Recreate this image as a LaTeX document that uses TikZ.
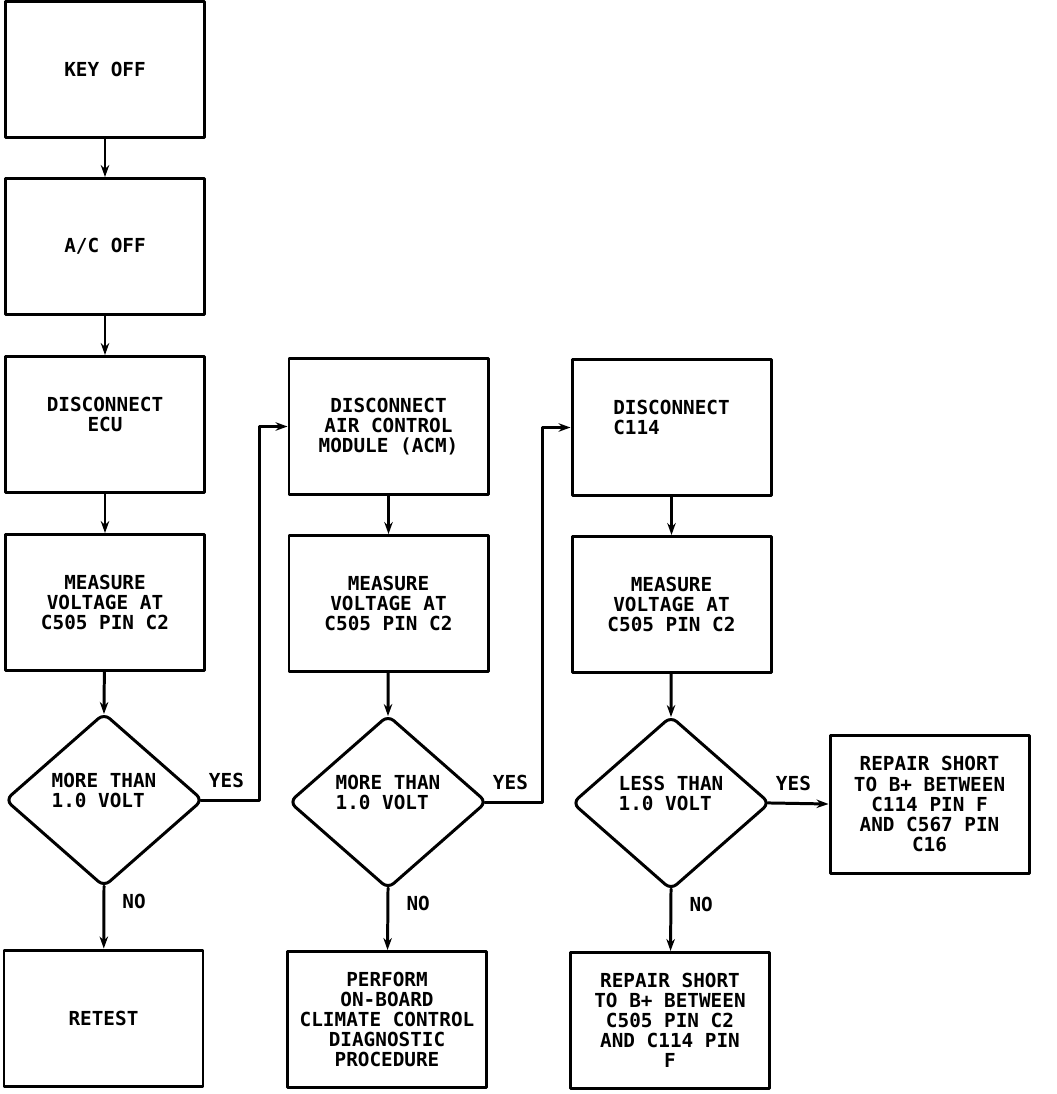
\documentclass[tikz,border=0pt]{standalone}
\usepackage{fontspec}
\newfontfamily\plotfont{DejaVu Sans Mono}
\usetikzlibrary{shapes.geometric,arrows.meta}

\begin{document}
\begin{tikzpicture}[x=0.2mm, y=-0.2mm, line width=1.7pt, line cap=round, line join=round,
    font=\plotfont\bfseries\fontsize{11}{11.4}\selectfont,
    stepbox/.style={draw, minimum width=39.8mm, minimum height=27.2mm, inner sep=0pt, align=center},
    decision/.style={draw, diamond, minimum width=39.6mm, minimum height=34.8mm, inner sep=0pt,
      align=left, rounded corners=1.5mm},
    flow/.style={-{Stealth[length=2.4mm,width=1.7mm]}},
    answer/.style={inner sep=0pt, anchor=base west}]
  \useasboundingbox (0,0) rectangle (1056,1094);

  \node[stepbox] (keyoff) at (105,69.5) {KEY OFF};
  \node[stepbox] (acoff) at (105,246.5) {A/C OFF};
  \node[stepbox] (discecu) at (105,424.5) {DISCONNECT\\ECU\\\mbox{}};
  \node[stepbox] (measa) at (105,602.5) {MEASURE\\VOLTAGE AT\\C505 PIN C2};
  \node[decision] (moreone) at (104,800) {MORE THAN\\1.0 VOLT\\\mbox{}};
  \node[stepbox] (retest) at (103.5,1018) {RETEST};

  \node[stepbox] (discacm) at (388.5,426.5) {DISCONNECT\\AIR CONTROL\\MODULE (ACM)};
  \node[stepbox] (measb) at (388.5,603.5) {MEASURE\\VOLTAGE AT\\C505 PIN C2};
  \node[decision] (moretwo) at (388,802) {MORE THAN\\1.0 VOLT\\\mbox{}};
  \node[stepbox] (perform) at (387,1019.5) {PERFORM\\ON-BOARD\\CLIMATE CONTROL\\DIAGNOSTIC\\PROCEDURE};

  \node[stepbox, align=left] (disccon) at (671.5,427.5) {DISCONNECT\\C114\\\mbox{}};
  \node[stepbox] (measc) at (671.5,604.5) {MEASURE\\VOLTAGE AT\\C505 PIN C2};
  \node[decision] (lessthree) at (671,803) {LESS THAN\\1.0 VOLT\\\mbox{}};
  \node[stepbox] (repairc) at (670,1020.5) {REPAIR SHORT\\TO B+ BETWEEN\\C505 PIN C2\\AND C114 PIN\\F};
  \node[stepbox, minimum height=27.6mm] (repairf) at (929.5,804) {REPAIR SHORT\\TO B+ BETWEEN\\C114 PIN F\\AND C567 PIN\\C16};

  \draw[flow] (keyoff) -- (acoff);
  \draw[flow] (acoff) -- (discecu);
  \draw[flow] (discecu) -- (measa);
  \draw[flow, shorten >=-0.5mm] (measa) -- (moreone.north);
  \draw[flow, shorten <=-0.5mm] (moreone.south) -- (retest);
  \draw[flow, shorten <=-0.75mm] (moreone.east) -- ++(55,0) |- (discacm.west);

  \draw[flow] (discacm) -- (measb);
  \draw[flow, shorten >=-0.5mm] (measb) -- (moretwo.north);
  \draw[flow, shorten <=-0.5mm] (moretwo.south) -- (perform);
  \draw[flow, shorten <=-0.75mm] (moretwo.east) -- ++(54,0) |- (disccon.west);

  \draw[flow] (disccon) -- (measc);
  \draw[flow, shorten >=-0.5mm] (measc) -- (lessthree.north);
  \draw[flow, shorten <=-0.5mm] (lessthree.south) -- (repairc);
  \draw[flow, shorten <=-0.75mm] (lessthree.east) -- (repairf.west);

  \node[answer] (yesone) at ([xshift=0.6mm,yshift=2.6mm]moreone.east) {YES};
  \node[answer] (noone) at ([xshift=3.4mm,yshift=-4mm]moreone.south) {NO};
  \node[answer] (yestwo) at ([xshift=0.6mm,yshift=2.6mm]moretwo.east) {YES};
  \node[answer] (notwo) at ([xshift=3.4mm,yshift=-4mm]moretwo.south) {NO};
  \node[answer] (yesthree) at ([xshift=0.6mm,yshift=2.6mm]lessthree.east) {YES};
  \node[answer] (nothree) at ([xshift=3.4mm,yshift=-4mm]lessthree.south) {NO};
\end{tikzpicture}
\end{document}
